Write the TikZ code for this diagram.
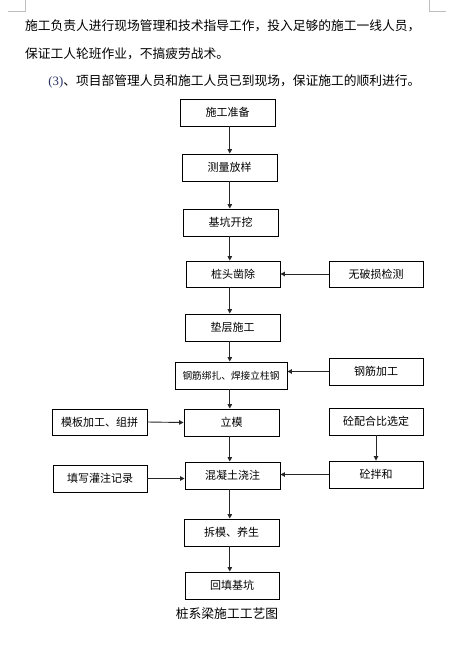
\documentclass[tikz,border=0pt]{standalone}
\usepackage{fontspec}
\setmainfont{Noto Sans CJK SC}
\newfontfamily\serifnum{Liberation Serif}
\usetikzlibrary{arrows.meta}
\definecolor{numblue}{RGB}{40,50,100}
\definecolor{cornergray}{RGB}{190,190,190}
\begin{document}
\begin{tikzpicture}[x=1pt,y=-1pt,
  box/.style={draw=black,line width=0.9pt,minimum height=27pt,inner sep=0pt,
    font=\fontsize{11}{13}\selectfont},
  arr/.style={-{Triangle[length=4.5pt,width=4.5pt]},line width=0.9pt,draw=black!85},
  para/.style={anchor=west,inner sep=0pt,font=\fontsize{12.75}{14}\selectfont}]
\useasboundingbox[fill=white] (0,0) rectangle (463,654);
% corner marks
\draw[cornergray,line width=0.6pt] (25,0) -- (25,11) -- (8,11);
\draw[cornergray,line width=0.6pt] (429.5,0) -- (429.5,11) -- (446,11);
% paragraph text
\node[para] (l1) at (25,25.5) {施工负责人进行现场管理和技术指导工作，投入足够的施工一线人员，};
\node[para] (l2) at (25,53.5) {保证工人轮班作业，不搞疲劳战术。};
\node[para] (l3) at (48.3,81.7) {{\serifnum\color{numblue}(3)}、项目部管理人员和施工人员已到现场，保证施工的顺利进行。};
% boxes
\node[box,minimum width=95pt] (n1) at (227.5,112.5) {施工准备};
\node[box,minimum width=95pt] (n2) at (229.5,167.5) {测量放样};
\node[box,minimum width=95pt] (n3) at (230.5,222.5) {基坑开挖};
\node[box,minimum width=94pt,minimum height=26pt] (n4) at (233,274) {桩头凿除};
\node[box,minimum width=94pt,minimum height=26pt] (n5) at (376,274) {无破损检测};
\node[box,minimum width=95pt] (n6) at (232.5,327.5) {垫层施工};
\node[box,minimum width=112pt,font=\fontsize{9.7}{12}\selectfont] (n7) at (231,375.5) {钢筋绑扎、焊接立柱钢};
\node[box,minimum width=94pt] (n8) at (376,371.5) {钢筋加工};
\node[box,minimum width=95pt,minimum height=26pt] (n9) at (99.5,422) {模板加工、组拼};
\node[box,minimum width=95pt] (n10) at (231.5,422.5) {立模};
\node[box,minimum width=94pt] (n11) at (376,421.5) {砼配合比选定};
\node[box,minimum width=94pt] (n12) at (100,478.5) {填写灌注记录};
\node[box,minimum width=95pt] (n13) at (232.5,475.5) {混凝土浇注};
\node[box,minimum width=94pt] (n14) at (376,474.5) {砼拌和};
\node[box,minimum width=95pt] (n15) at (231.5,532.5) {拆模、养生};
\node[box,minimum width=94pt] (n16) at (232,585.5) {回填基坑};
% caption
\node[inner sep=0pt,font=\fontsize{12.8}{14}\selectfont] (cap) at (227,613.6) {桩系梁施工工艺图};
% spine
\coordinate (sp) at (229.8,0);
\draw[arr] (n1.south -| sp) -- (n2.north -| sp);
\draw[arr] (n2.south -| sp) -- (n3.north -| sp);
\draw[arr] (n3.south -| sp) -- (n4.north -| sp);
\draw[arr] (n4.south -| sp) -- (n6.north -| sp);
\draw[arr] (n6.south -| sp) -- (n7.north -| sp);
\draw[arr] (n7.south -| sp) -- (n10.north -| sp);
\draw[arr] (n10.south -| sp) -- (n13.north -| sp);
\draw[arr] (n13.south -| sp) -- (n15.north -| sp);
\draw[arr] (n15.south -| sp) -- (n16.north -| sp);
% side arrows
\draw[arr] (n5.west) -- (n4.east);
\draw[arr] (n8.west) -- (n8.west -| n7.east);
\draw[arr] (n9.east) -- (n10.west);
\draw[arr] (n12.east) -- (n12.east -| n13.west);
\draw[arr] (n14.west) -- (n14.west -| n13.east);
\draw[arr] (n11.south) -- (n14.north);
\end{tikzpicture}
\end{document}
